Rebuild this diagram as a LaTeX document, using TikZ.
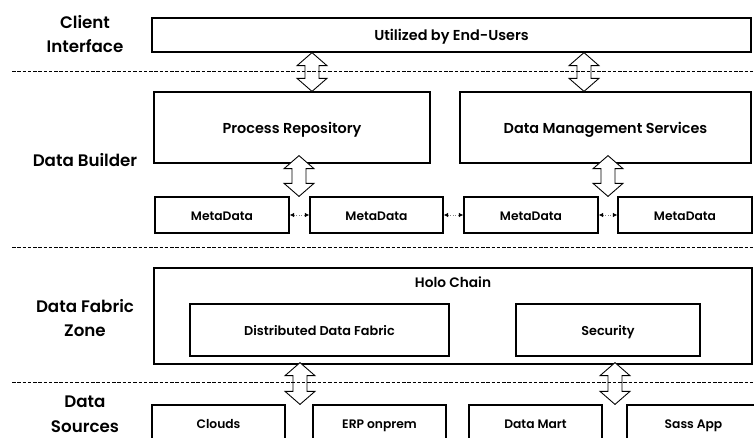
\documentclass[tikz,border=0pt]{standalone}
\usepackage{fontspec}
\setmainfont{Poppins}[BoldFont={Poppins SemiBold}]
\usetikzlibrary{calc,arrows.meta}
\newlength\pxl
\setlength\pxl{0.02cm}
\tikzset{
  box/.style={draw, line width=0.7pt, inner sep=0pt, text height=1.6ex, text depth=0.4ex, font=\bfseries\fontsize{8.2}{10}\selectfont},
  mdbox/.style={box, minimum width=134\pxl, minimum height=36\pxl, font=\bfseries\fontsize{7}{8}\selectfont},
  srcbox/.style={box, minimum width=133\pxl, minimum height=36\pxl, font=\bfseries\fontsize{7}{8}\selectfont},
  fabbox/.style={box, minimum height=52\pxl, font=\bfseries\fontsize{7.3}{9}\selectfont},
  zone/.style={align=center, font=\bfseries\fontsize{9.5}{14}\selectfont},
  sepline/.style={dash pattern=on 2pt off 1pt, line width=0.5pt},
  mdlink/.style={densely dotted, gray, line width=0.5pt, {Latex[length=2.5pt,width=2.5pt,black]}-{Latex[length=2.5pt,width=2.5pt,black]}},
  blockarrow/.style={fill=white, line width=0.5pt, to path={
    let \p1=(\tikztostart), \p2=(\tikztotarget) in
    (\x1,\y1) -- (\x1+8.5pt,\y1-7.4pt) -- (\x1+4pt,\y1-7.4pt) -- (\x1+4pt,\y2+7.4pt)
    -- (\x1+8.5pt,\y2+7.4pt) -- (\x1,\y2) -- (\x1-8.5pt,\y2+7.4pt) -- (\x1-4pt,\y2+7.4pt)
    -- (\x1-4pt,\y1-7.4pt) -- (\x1-8.5pt,\y1-7.4pt) -- cycle}}
}
\begin{document}
\begin{tikzpicture}[x=0.02cm,y=-0.02cm]
\useasboundingbox (0,0) rectangle (754,437);
\node[zone] (lci) at (85,34) {Client\\Interface};
\node[zone] (ldb) at (85,160) {Data Builder};
\node[zone] (ldf) at (85,318) {Data Fabric\\Zone};
\node[zone] (lds) at (85,414) {Data\\Sources};
\node[box, minimum width=599\pxl, minimum height=34\pxl] (ui) at (451.5,35) {Utilized by End-Users};
\node[box, minimum width=276\pxl, minimum height=71\pxl] (pr) at (292,127.5) {Process Repository};
\node[box, minimum width=291\pxl, minimum height=71\pxl] (dms) at (605.5,127.5) {Data Management Services};
\node[mdbox] (md1) at (222,215) {MetaData};
\node[mdbox, minimum width=133\pxl] (md2) at (376.5,215) {MetaData};
\node[mdbox] (md3) at (531,215) {MetaData};
\node[mdbox] (md4) at (685,215) {MetaData};
\node[box, minimum width=598\pxl, minimum height=96\pxl] (holo) at (453,316) {};
\node[font=\bfseries\fontsize{7.8}{10}\selectfont] (hc) at (453,282) {Holo Chain};
\node[fabbox, minimum width=259\pxl] (ddf) at (319.5,330) {Distributed Data Fabric};
\node[fabbox, minimum width=184\pxl] (sec) at (608,330) {Security};
\node[srcbox] (cl) at (218.5,423) {Clouds};
\node[srcbox] (erp) at (379.5,423) {ERP onprem};
\node[srcbox] (dm) at (535.5,423) {Data Mart};
\node[srcbox] (sass) at (693.5,423) {Sass App};
\draw[mdlink] (md1) -- (md2);
\draw[mdlink] (md2) -- (md3);
\draw[mdlink] (md3) -- (md4);
\draw[blockarrow] (ui.south -| 312,0) to (pr.north -| 312,0);
\draw[blockarrow] (ui.south -| 584,0) to (dms.north -| 584,0);
\draw[blockarrow] ([yshift=8\pxl]pr.south -| 299,0) to (md1.north -| 299,0);
\draw[blockarrow] ([yshift=8\pxl]dms.south -| 608,0) to (md3.north -| 608,0);
\draw[blockarrow] ([yshift=2\pxl]holo.south -| 300,0) to (cl.north -| 300,0);
\draw[blockarrow] ([yshift=2\pxl]holo.south -| 615,0) to (dm.north -| 615,0);
\draw[sepline] (12,71) -- (754,71);
\draw[sepline] (12,247) -- (754,247);
\draw[sepline] (12,382) -- (754,382);
\end{tikzpicture}
\end{document}
